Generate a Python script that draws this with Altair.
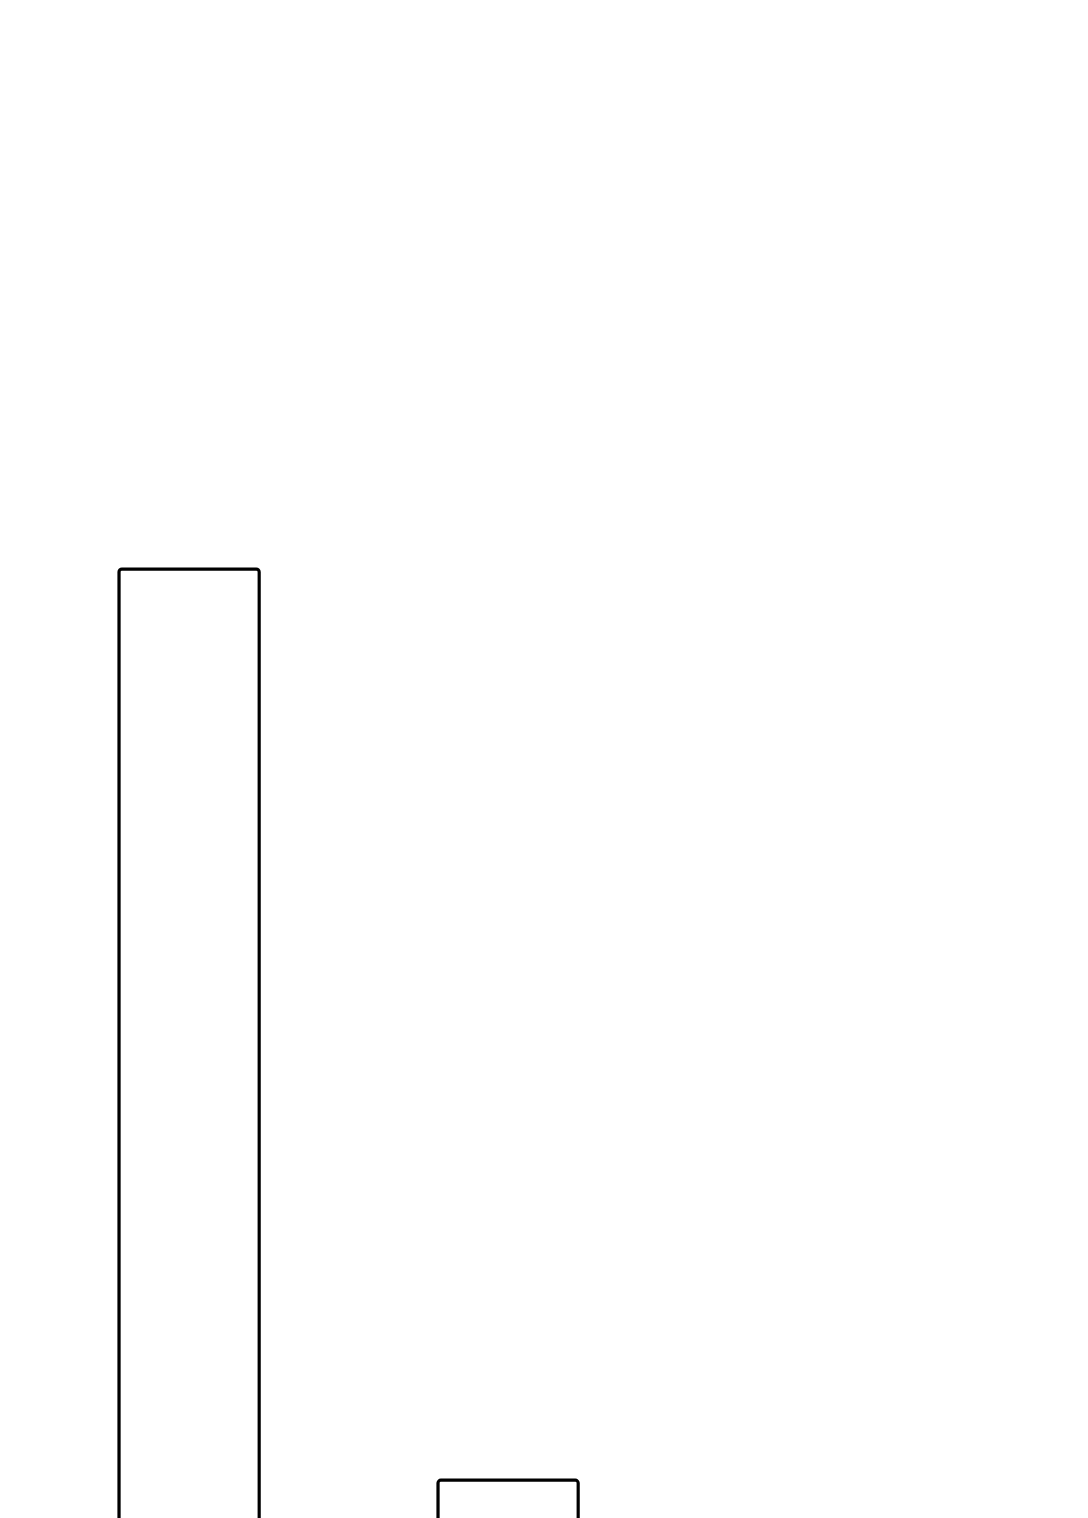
import altair as alt
import pandas as pd

categories = ["A", "B"]
values = [67.3, 13.7]

df = pd.DataFrame({"category": categories, "value": values})

chart = alt.Chart(df).mark_bar(
    fill="white", stroke="black", strokeWidth=3, cornerRadius=3
).encode(
    x=alt.X("category:N", axis=None,
            scale=alt.Scale(paddingInner=0.56, paddingOuter=0.332)),
    y=alt.Y("value:Q", axis=None, scale=alt.Scale(domain=[0, 100], nice=False)),
).properties(
    width=alt.Step(319), height=1700
).configure_view(stroke=None)

chart.save("out.html", embed_options={"renderer": "svg", "actions": False})
